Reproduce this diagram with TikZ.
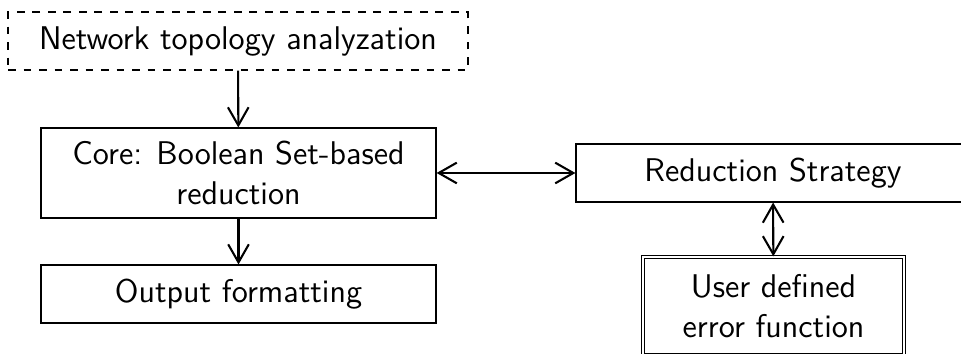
\documentclass[tikz,border=0pt]{standalone}
\usepackage{tikz}
\usetikzlibrary{arrows.meta, positioning}
\renewcommand{\familydefault}{\sfdefault}

\begin{document}
\begin{tikzpicture}[x=0.387pt, y=-0.387pt,
    every node/.style={font=\fontsize{12.7}{15.5}\selectfont\sffamily},
    block/.style={draw, rectangle, align=center, inner sep=0pt, line width=0.45pt},
    link/.style={line width=0.8pt, {Straight Barb[length=7pt,width=8pt]}-{Straight Barb[length=7pt,width=8pt]}},
    flow/.style={line width=0.8pt, -{Straight Barb[length=7pt,width=8pt]}}]
        \clip (0,0) rectangle (961,354);
        \useasboundingbox (0,0) rectangle (961,354);
        % left column
        \node[block, dashed, minimum width=178pt, minimum height=22.4pt] (topo) at (238,41) {Network topology analyzation};
        \node[block, minimum width=152.9pt, minimum height=34.8pt] (core) at (238.5,173) {Core: Boolean Set-based\\reduction};
        \node[block, minimum width=152.9pt, minimum height=22.4pt] (out) at (238.5,294) {Output formatting};
        % right column
        \node[block, minimum width=152.5pt, minimum height=22.4pt] (strat) at (773,173) {Reduction Strategy};
        \node[block, double, double distance=0.9pt, minimum width=101pt, minimum height=38pt] (user) at (773.5,306) {User defined\\error function};
        % connectors
        \draw[flow] (topo) -- (core);
        \draw[flow] (core) -- (out);
        \draw[link] (core) -- (strat);
        \draw[link] (strat) -- (user);
      \end{tikzpicture}
\end{document}
